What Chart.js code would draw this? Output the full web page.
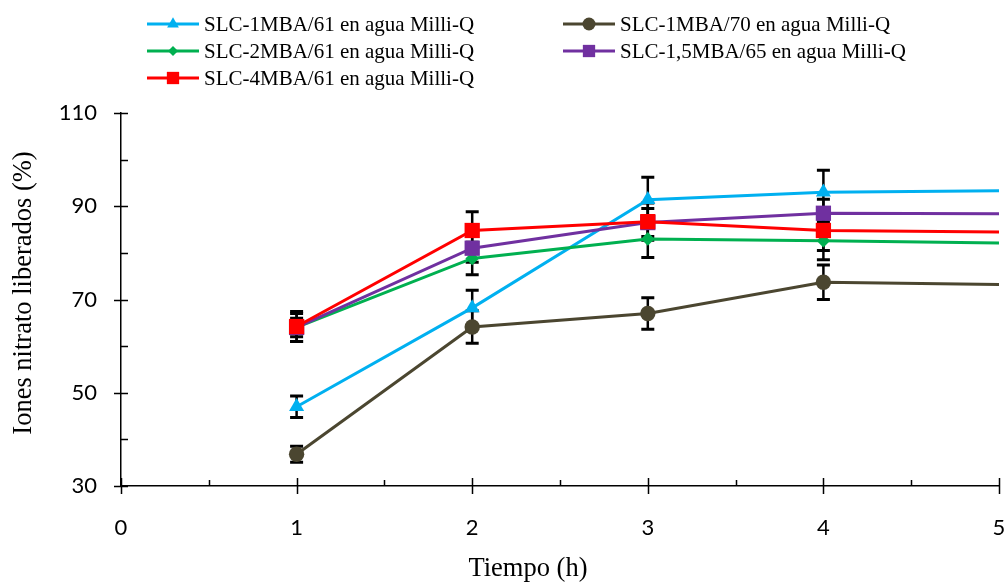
<!DOCTYPE html>
<html>
<head>
<meta charset="utf-8">
<script src="https://cdn.jsdelivr.net/npm/chart.js@4.4.0/dist/chart.umd.min.js"></script>
<style>
  html, body { margin: 0; padding: 0; background: #fff; }
  #contenedor { width: 1006px; height: 582px; position: relative; }
</style>
</head>
<body>
<div id="contenedor"><canvas id="grafico"></canvas></div>
<script>
// Tiempo (h) y porcentaje de iones nitrato liberados
const tiempos = [1, 2, 3, 4, 5];
const slc1mba61 = [47.0, 68.2, 91.4, 93.0, 93.3];
const slc1mba70 = [36.8, 64.1, 67.0, 73.7, 73.2];
const slc2mba61 = [64.0, 78.8, 83.0, 82.6, 82.1];
const slc15mba65 = [64.0, 81.0, 86.5, 88.5, 88.4];
const slc4mba61 = [64.2, 84.8, 86.7, 84.8, 84.5];

// desviación (barras de error), sin barra en t = 5
const err1mba61 = [2.3, 3.8, 4.8, 4.7, null];
const err1mba70 = [1.7, 3.5, 3.4, 3.7, null];
const err2mba61 = [3.0, 3.5, 4.0, 4.1, null];
const err15mba65 = [2.0, 3.0, 3.0, 3.0, null];
const err4mba61 = [3.2, 4.0, 4.0, 4.3, null];

const ticksY = [30, 50, 70, 90, 110];
const ticksYMenores = [40, 60, 80, 100];
const ticksX = [0, 1, 2, 3, 4, 5];
const ticksXMenores = [0.5, 1.5, 2.5, 3.5, 4.5];

const tituloX = 'Tiempo (h)';
const tituloY = 'Iones nitrato liberados (%)';

function puntos(valores) {
    return tiempos.map((t, i) => ({ x: t, y: valores[i] }));
}

// el último punto sólo prolonga la línea, sin marcador
function radios(r) {
    return tiempos.map((t, i) => i === tiempos.length - 1 ? 0 : r);
}

function serie(etiqueta, valores, errores, color, estilo, radio, radioLeyenda, orden) {
    return {
        label: etiqueta,
        data: puntos(valores),
        errores: errores,
        borderColor: color,
        backgroundColor: color,
        borderWidth: 3,
        pointStyle: estilo,
        pointRadius: radios(radio),
        pointBorderWidth: 0,
        pointHoverRadius: radios(radio),
        radioLeyenda: radioLeyenda,
        order: orden,
        tension: 0
    };
}

const barrasError = {
    id: 'barrasError',
    beforeDatasetsDraw(chart) {
        const { ctx, scales: { x, y } } = chart;
        ctx.save();
        ctx.strokeStyle = '#000';
        ctx.lineCap = 'butt';
        chart.data.datasets.forEach(ds => {
            ds.data.forEach((p, i) => {
                const e = ds.errores[i];
                if (e == null) return;
                const px = x.getPixelForValue(p.x);
                const arriba = y.getPixelForValue(p.y + e);
                const abajo = y.getPixelForValue(p.y - e);
                ctx.lineWidth = 2.5;
                ctx.beginPath();
                ctx.moveTo(px, arriba);
                ctx.lineTo(px, abajo);
                ctx.stroke();
                ctx.lineWidth = 3;
                ctx.beginPath();
                ctx.moveTo(px - 6.5, arriba);
                ctx.lineTo(px + 6.5, arriba);
                ctx.moveTo(px - 6.5, abajo);
                ctx.lineTo(px + 6.5, abajo);
                ctx.stroke();
            });
        });
        ctx.restore();
    }
};

const marcasEjes = {
    id: 'marcasEjes',
    afterDraw(chart) {
        const { ctx, scales: { x, y } } = chart;
        const x0 = x.left;
        const y0 = y.bottom;
        ctx.save();
        ctx.strokeStyle = '#000';
        ctx.lineWidth = 1.5;
        ctx.beginPath();
        ticksY.forEach(v => {
            const py = Math.round(y.getPixelForValue(v)) + 0.5;
            ctx.moveTo(x0 - 7, py);
            ctx.lineTo(x0 + 7, py);
        });
        ticksYMenores.forEach(v => {
            const py = Math.round(y.getPixelForValue(v)) + 0.5;
            ctx.moveTo(x0, py);
            ctx.lineTo(x0 + 7, py);
        });
        ticksX.forEach(v => {
            const px = Math.round(x.getPixelForValue(v)) + 0.5;
            ctx.moveTo(px, y0 - 8);
            ctx.lineTo(px, y0 + 8);
        });
        ticksXMenores.forEach(v => {
            const px = Math.round(x.getPixelForValue(v)) + 0.5;
            ctx.moveTo(px, y0 - 6);
            ctx.lineTo(px, y0);
        });
        ctx.stroke();

        // títulos de los ejes
        ctx.fillStyle = '#000';
        ctx.font = '26.5px "Liberation Serif", "Times New Roman", serif';
        ctx.textAlign = 'center';
        ctx.textBaseline = 'middle';
        ctx.fillText(tituloX, 528, 569);
        ctx.translate(24, 293);
        ctx.rotate(-Math.PI / 2);
        ctx.fillText(tituloY, 0, 0);
        ctx.restore();
    }
};

// leyenda en dos columnas sobre el gráfico
const leyenda = {
    id: 'leyenda',
    afterDraw(chart) {
        const { ctx } = chart;
        const columnas = [147, 563];
        const filas = [24, 51, 78];
        ctx.save();
        ctx.font = '21px "Liberation Serif", "Times New Roman", serif';
        ctx.textBaseline = 'middle';
        chart.data.datasets.forEach((ds, i) => {
            const cx = columnas[i % 2];
            const cy = filas[Math.floor(i / 2)];
            ctx.strokeStyle = ds.borderColor;
            ctx.lineWidth = 3;
            ctx.beginPath();
            ctx.moveTo(cx, cy);
            ctx.lineTo(cx + 52, cy);
            ctx.stroke();
            ctx.fillStyle = ds.backgroundColor;
            Chart.helpers.drawPoint(ctx, {
                pointStyle: ds.pointStyle,
                radius: ds.radioLeyenda,
                rotation: 0,
                borderWidth: 0
            }, cx + 26, cy);
            ctx.fillStyle = '#000';
            ctx.fillText(ds.label, cx + 57, cy + 1);
        });
        ctx.restore();
    }
};

const fuenteTicks = { family: 'Lato, "Open Sans", sans-serif', size: 22 };

new Chart(document.getElementById('grafico'), {
    type: 'line',
    data: {
        datasets: [
            serie('SLC-1MBA/61 en agua Milli-Q', slc1mba61, err1mba61, '#00B0F0', 'triangle', 8.7, 6.8, 5),
            serie('SLC-1MBA/70 en agua Milli-Q', slc1mba70, err1mba70, '#4B4630', 'circle', 7.7, 6.5, 4),
            serie('SLC-2MBA/61 en agua Milli-Q', slc2mba61, err2mba61, '#00B050', 'rectRot', 6.8, 5, 3),
            serie('SLC-1,5MBA/65 en agua Milli-Q', slc15mba65, err15mba65, '#7030A0', 'rect', 10.8, 8.7, 2),
            serie('SLC-4MBA/61 en agua Milli-Q', slc4mba61, err4mba61, '#FF0000', 'rect', 10.8, 8.7, 1)
        ]
    },
    options: {
        responsive: true,
        maintainAspectRatio: false,
        animation: false,
        layout: {
            autoPadding: false,
            padding: { top: 113, right: 7, left: 0, bottom: 0 }
        },
        plugins: {
            legend: { display: false },
            tooltip: { enabled: false }
        },
        scales: {
            x: {
                type: 'linear',
                min: 0,
                max: 5,
                grid: { display: false, drawTicks: false },
                border: { display: true, color: '#000', width: 1.5 },
                ticks: {
                    stepSize: 1,
                    padding: 29,
                    color: '#000',
                    font: fuenteTicks
                },
                afterFit(scale) {
                    scale.height = 96;
                    scale.paddingLeft = 0;
                    scale.paddingRight = 0;
                }
            },
            y: {
                min: 30,
                max: 110,
                grid: { display: false, drawTicks: false },
                border: { display: true, color: '#000', width: 1.5 },
                ticks: {
                    stepSize: 20,
                    padding: 24,
                    color: '#000',
                    font: fuenteTicks
                },
                afterFit(scale) {
                    scale.width = 121;
                    scale.paddingTop = 0;
                    scale.paddingBottom = 0;
                }
            }
        }
    },
    plugins: [barrasError, marcasEjes, leyenda]
});
</script>
</body>
</html>
